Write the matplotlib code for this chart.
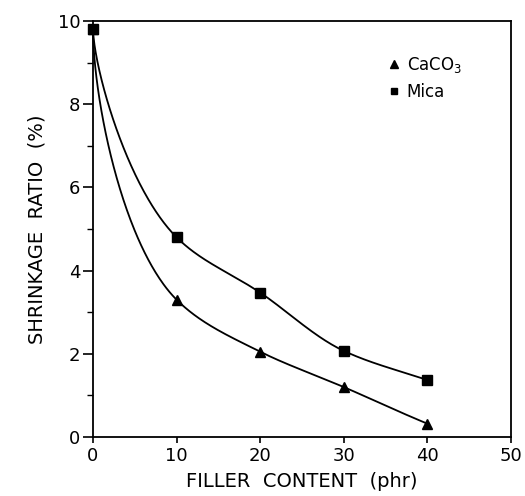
import numpy as np
import matplotlib
matplotlib.use("Agg")
import matplotlib.pyplot as plt
from matplotlib.lines import Line2D

# Shrinkage ratio vs filler content
filler = [0, 10, 20, 30, 40]
caco3 = [9.8, 3.3, 2.05, 1.2, 0.32]
mica = [9.8, 4.8, 3.47, 2.07, 1.37]


def smooth(x, y, p=0.5, n=300):
    # monotone cubic through the points, drawn in x**p space
    u = np.asarray(x, float) ** p
    y = np.asarray(y, float)
    h = np.diff(u)
    d = np.diff(y) / h
    m = np.zeros_like(y)
    for k in range(1, len(y) - 1):
        if d[k - 1] * d[k] > 0:
            w1 = 2 * h[k] + h[k - 1]
            w2 = h[k] + 2 * h[k - 1]
            m[k] = (w1 + w2) / (w1 / d[k - 1] + w2 / d[k])
    m[0] = d[0]
    m[-1] = d[-1]
    uu = np.linspace(u[0], u[-1], n)
    idx = np.clip(np.searchsorted(u, uu) - 1, 0, len(h) - 1)
    t = (uu - u[idx]) / h[idx]
    yy = ((2*t**3 - 3*t**2 + 1) * y[idx] + (t**3 - 2*t**2 + t) * h[idx] * m[idx]
          + (-2*t**3 + 3*t**2) * y[idx + 1] + (t**3 - t**2) * h[idx] * m[idx + 1])
    return uu ** (1 / p), yy


fig = plt.figure(figsize=(5.25, 4.96), dpi=100)
ax = fig.add_axes([93/525, 1 - 437/496, 418/525, 416/496])

for ys, mk, p in [(caco3, "^", 0.56), (mica, "s", 0.65)]:
    xs, yy = smooth(filler, ys, p)
    ax.plot(xs, yy, color="black", lw=1.3, clip_on=False)
    ax.plot(filler, ys, ls="none", marker=mk, color="black", ms=7.5,
            clip_on=False, zorder=3)

ax.set_xlim(0, 50)
ax.set_ylim(0, 10)
ax.set_xticks(range(0, 51, 10))
ax.set_yticks(range(0, 11, 2))
ax.set_yticks(range(1, 10, 2), minor=True)
ax.tick_params(axis="y", direction="out", length=7, width=1.2, labelsize=13, pad=2)
ax.tick_params(axis="x", direction="out", length=4, width=1.2, labelsize=13, pad=3)
ax.tick_params(which="minor", direction="out", length=4, width=1.0)
for s in ax.spines.values():
    s.set_linewidth(1.3)

ax.set_xlabel("FILLER  CONTENT  (phr)", fontsize=14, labelpad=5)
ax.set_ylabel("SHRINKAGE  RATIO  (%)", fontsize=14, labelpad=8)

handles = [Line2D([], [], ls="none", marker="^", color="black", ms=6),
           Line2D([], [], ls="none", marker="s", color="black", ms=5)]
ax.legend(handles, ["CaCO$_3$", "Mica"], loc="upper left",
          bbox_to_anchor=(0.665, 0.955), frameon=False, fontsize=12,
          handletextpad=0.25, handlelength=1.0, labelspacing=0.5)

fig.savefig("out.png", dpi=100)
